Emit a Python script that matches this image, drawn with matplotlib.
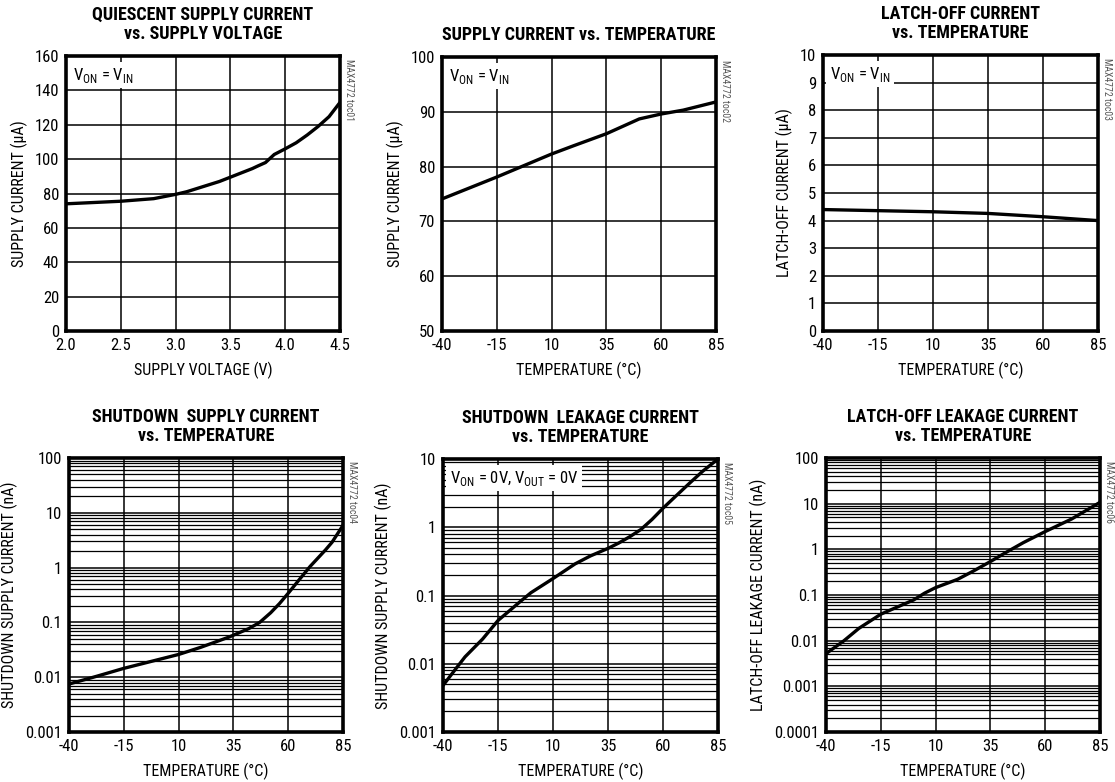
import matplotlib
matplotlib.use('Agg')
import matplotlib.pyplot as plt
from matplotlib import font_manager
from matplotlib.ticker import LogLocator, FixedLocator, NullFormatter
import numpy as np

# pick a narrow sans face if one is installed
installed = set(f.name for f in font_manager.fontManager.ttflist)
def first_font(cands):
    for c in cands:
        if c in installed:
            return c
    return 'DejaVu Sans'

body_font = first_font(['Liberation Sans Narrow', 'Arial Narrow', 'Roboto Condensed',
                        'Archivo Narrow', 'PT Sans Narrow', 'Open Sans Condensed',
                        'DejaVu Sans Condensed'])
title_font = first_font(['Roboto Condensed', 'Archivo Narrow', 'PT Sans Narrow',
                         'Liberation Sans Narrow', 'DejaVu Sans Condensed'])

plt.rcParams['font.family'] = [body_font, 'DejaVu Sans']
plt.rcParams['mathtext.fontset'] = 'custom'
plt.rcParams['mathtext.rm'] = body_font
plt.rcParams['axes.unicode_minus'] = False

# ---- data ----
# 1: quiescent supply current vs supply voltage
v1 = [2.0, 2.5, 2.8, 3.0, 3.1, 3.25, 3.4, 3.5, 3.6, 3.7, 3.75, 3.82, 3.9, 4.0, 4.1, 4.2, 4.3, 4.4, 4.5]
i1 = [74, 75.5, 77, 79.5, 81, 84, 87, 89.5, 92, 94.5, 96, 98, 102.7, 106, 109.5, 114, 119, 124.7, 133]

temp = [-40, -15, 10, 35, 60, 85]

# 2: supply current vs temperature
t2 = [-40, -15, 10, 20, 35, 45, 50, 60, 70, 85]
i2 = [74.1, 78.1, 82.3, 83.8, 86.0, 87.8, 88.7, 89.6, 90.3, 91.8]

# 3: latch-off current vs temperature
t3 = [-40, -15, 10, 35, 60, 85]
i3 = [4.4, 4.36, 4.32, 4.26, 4.14, 4.0]

# 4: shutdown supply current (nA)
t4 = [-40, -27, -15, 10, 20, 33, 42, 47, 52, 56, 60, 65, 70, 77, 80, 85]
i4 = [0.0075, 0.0105, 0.0145, 0.026, 0.035, 0.054, 0.077, 0.1, 0.15, 0.22, 0.34, 0.6, 1.05,
      2.1, 2.9, 5.9]

# 5: shutdown leakage current (nA)
t5 = [-40, -35, -30, -22, -15, -5, 0, 10, 20, 27, 35, 40, 45, 50, 55, 60, 65, 72, 78, 85]
i5 = [0.0048, 0.0078, 0.0126, 0.023, 0.043, 0.081, 0.11, 0.177, 0.29, 0.38, 0.49, 0.59, 0.73,
      0.93, 1.3, 1.9, 2.7, 4.4, 6.6, 10]

# 6: latch-off leakage current (nA)
t6 = [-40, -32, -25, -15, 0, 5, 10, 20, 27, 35, 42, 50, 60, 72, 85]
i6 = [0.0052, 0.0098, 0.0186, 0.038, 0.078, 0.11, 0.145, 0.22, 0.33, 0.54, 0.85, 1.4, 2.45,
      4.6, 10.7]

titles = ['QUIESCENT SUPPLY CURRENT\nvs. SUPPLY VOLTAGE',
          'SUPPLY CURRENT vs. TEMPERATURE',
          'LATCH-OFF CURRENT\nvs. TEMPERATURE',
          'SHUTDOWN  SUPPLY CURRENT\nvs. TEMPERATURE',
          'SHUTDOWN  LEAKAGE CURRENT\nvs. TEMPERATURE',
          'LATCH-OFF LEAKAGE CURRENT\nvs. TEMPERATURE']
ylabels = ['SUPPLY CURRENT (\u03bcA)', 'SUPPLY CURRENT (\u03bcA)', 'LATCH-OFF CURRENT (\u03bcA)',
           'SHUTDOWN SUPPLY CURRENT (nA)', 'SHUTDOWN SUPPLY CURRENT (nA)',
           'LATCH-OFF LEAKAGE CURRENT (nA)']
xlabels = ['SUPPLY VOLTAGE (V)'] + ['TEMPERATURE (\u00b0C)'] * 5
tocs = ['MAX4772 toc01', 'MAX4772 toc02', 'MAX4772 toc03',
        'MAX4772 toc04', 'MAX4772 toc05', 'MAX4772 toc06']
notes = [r'V$_{\rm ON}$ = V$_{\rm IN}$', r'V$_{\rm ON}$ = V$_{\rm IN}$', r'V$_{\rm ON}$ = V$_{\rm IN}$',
         None, r'V$_{\rm ON}$ = 0V, V$_{\rm OUT}$ = 0V', None]

W, H = 1115, 782
fig = plt.figure(figsize=(W / 100, H / 100), dpi=100)

# axes boxes in pixels: left, top, right, bottom
boxes = [(66, 56, 340, 331), (442, 57, 716, 331), (823, 55, 1098, 331),
         (69, 458, 343, 732), (443, 459, 718, 732), (826, 458, 1100, 732)]

xs = [v1, t2, t3, t4, t5, t6]
ys = [i1, i2, i3, i4, i5, i6]

for k in range(6):
    l, t, r, b = boxes[k]
    ax = fig.add_axes([l / W, 1 - b / H, (r - l) / W, (b - t) / H])
    ax.plot(xs[k], ys[k], color='black', lw=2.4, zorder=4,
            solid_capstyle='round', solid_joinstyle='round')

    if k == 0:
        ax.set_xlim(2.0, 4.5)
        ax.set_xticks(np.arange(2.0, 4.51, 0.5))
        ax.set_xticklabels(['2.0', '2.5', '3.0', '3.5', '4.0', '4.5'])
        ax.set_ylim(0, 160)
        ax.set_yticks(range(0, 161, 20))
    else:
        ax.set_xlim(-40, 85)
        ax.set_xticks(temp)
    if k == 1:
        ax.set_ylim(50, 100)
        ax.set_yticks(range(50, 101, 10))
    if k == 2:
        ax.set_ylim(0, 10)
        ax.set_yticks(range(0, 11))
    if k >= 3:
        ax.set_yscale('log')
        lims = {3: (1e-3, 100), 4: (1e-3, 10), 5: (1e-4, 100)}[k]
        ax.set_ylim(*lims)
        decs = np.arange(np.log10(lims[0]), np.log10(lims[1]) + 0.5)
        ax.yaxis.set_major_locator(FixedLocator(10.0 ** decs))
        ax.set_yticklabels(['%g' % v for v in 10.0 ** decs])
        ax.yaxis.set_minor_locator(LogLocator(base=10, subs=np.arange(2, 10), numticks=20))
        ax.yaxis.set_minor_formatter(NullFormatter())
        ax.grid(True, which='minor', axis='y', color='black', lw=0.9, zorder=1)

    ax.grid(True, which='major', color='black', lw=1.1, zorder=1)
    ax.set_axisbelow(True)
    for s in ax.spines.values():
        s.set_linewidth(2.6)
        s.set_zorder(6)
    ax.tick_params(which='both', length=0, labelsize=12, pad=5)

    ax.set_xlabel(xlabels[k], fontsize=11.5, labelpad=6)
    ax.set_ylabel(ylabels[k], fontsize=11.5, labelpad=5)
    ax.set_title(titles[k], fontsize=13, fontweight='bold', family=[title_font, 'DejaVu Sans'],
                 linespacing=1.12, pad=12)

    fig.text((r + 4) / W, 1 - (t + 3) / H, tocs[k], rotation=270, fontsize=7,
             color='#555555', ha='left', va='top')

    if notes[k] is not None:
        ax.text(0.025, 0.965, notes[k], transform=ax.transAxes, fontsize=12,
                ha='left', va='top', zorder=3,
                bbox=dict(facecolor='white', edgecolor='none', pad=2.5))

fig.savefig('out.png', dpi=100)
